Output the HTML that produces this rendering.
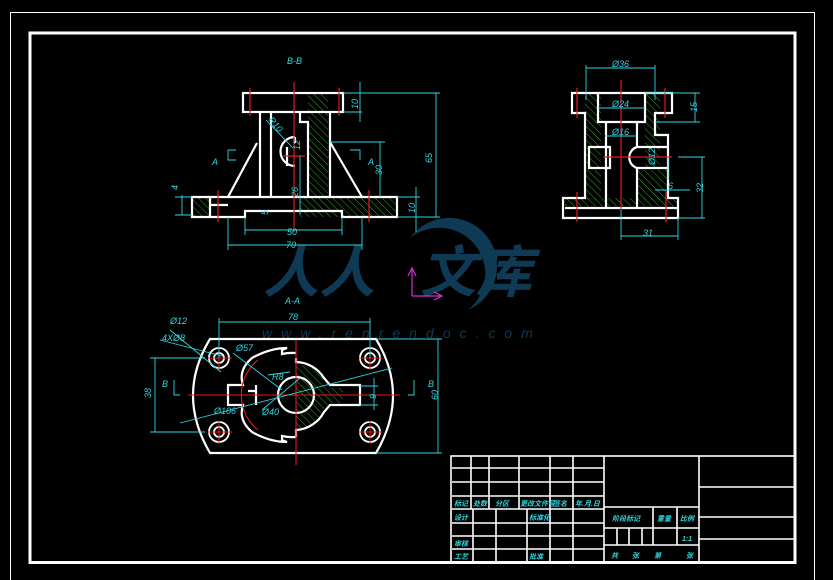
<!DOCTYPE html>
<html><head><meta charset="utf-8"><style>
html,body{margin:0;padding:0;background:#000;}
svg{display:block}
text{font-family:"Liberation Sans","Noto Sans CJK SC",sans-serif;font-style:italic}
</style></head><body>
<svg width="833" height="580" viewBox="0 0 833 580" xmlns="http://www.w3.org/2000/svg">
<defs>
<pattern id="h" width="5" height="5" patternUnits="userSpaceOnUse" patternTransform="rotate(-45)">
<line x1="0" y1="0" x2="0" y2="5" stroke="#3bd12a" stroke-width="0.8"/>
</pattern>
</defs>
<rect width="833" height="580" fill="#000"/>
<rect x="10.5" y="12.5" width="804" height="570" fill="none" stroke="#fff" stroke-width="1"/>
<rect x="30" y="33" width="765" height="529.5" fill="none" stroke="#fff" stroke-width="3"/>

<g fill="#0e3a55">
<path d="M410 238 A48 48 0 1 1 468 310 A42 42 0 1 0 410 238Z" />
<text x="263" y="292" font-size="56" font-style="normal" font-family="Noto Serif CJK SC,serif" font-weight="bold">人人</text>
<text x="420" y="292" font-size="56" font-style="normal" font-family="Noto Serif CJK SC,serif" font-weight="bold">文库</text>
<text x="262" y="338" font-size="14" font-style="normal" font-family="Liberation Serif,serif" letter-spacing="9">www.renrendoc.com</text>
</g>
<g stroke="#d030d0" stroke-width="1.2" fill="none">
<path d="M412 296 V268 M408 276 L412 268 L416 276 M412 296 H442 M434 292 L442 296 L434 300"/>
</g>

<text x="287" y="64" fill="#2fd6e0" font-size="9">B-B</text>
<g fill="url(#h)">
<rect x="308" y="93" width="20" height="104"/>
<rect x="300" y="197" width="97" height="20"/>
<rect x="193" y="198" width="17" height="18"/>
</g>
<g fill="none" stroke="#fff" stroke-width="2.2">
<rect x="243" y="93" width="100" height="19"/>
<path d="M260 112 V197 M330 112 V197 M300 112 V122 H308 V197 M308 122"/>
<path d="M257 143 L228 197 M330 142 L362 197"/>
<path d="M192 197 H397 V217 H342 V211 H245 V217 H192 Z"/>
<path d="M210 205 H228 M210 197 V217"/>
<path d="M295 137 A12 12 0 0 0 295 166 M295 137 V143 M287 147 V166"/>
<path d="M271 112 V197"/>
</g>
<g stroke="#e01a1a" stroke-width="1.2">
<line x1="294" y1="82" x2="294" y2="232"/>
<line x1="250" y1="88" x2="250" y2="116"/>
<line x1="339" y1="88" x2="339" y2="116"/>
<line x1="218" y1="190" x2="218" y2="222"/>
<line x1="369" y1="190" x2="369" y2="222"/>
<line x1="283" y1="156" x2="305" y2="156"/>
</g>
<g stroke="#2fd6e0" stroke-width="0.9" fill="none">
<path d="M343 93 H440 M343 112 H362 M360 82 V122 M436 93 V217 M397 217 H440"/>
<path d="M330 142 H385 M380 142 V197 M397 197 H420 M416 187 V232 M397 217 H420"/>
<path d="M228 217 V250 M362 217 V250 M228 245 H362 M245 217 V235 M342 217 V235 M245 230 H342"/>
<path d="M300 156 V215"/>
<path d="M182 195 V215 M175 197 H192 M175 215 H192"/>
<path d="M266 120 L293 148"/>
<path d="M228 150 V160 H236 M228 150 H236 M350 150 H360 V160"/>
</g>
<g fill="#2fd6e0" font-size="9">
<text x="212" y="165">A</text><text x="368" y="165">A</text>
<text x="287" y="235">50</text><text x="286" y="248">70</text>
<text transform="translate(358,109) rotate(-90)">10</text>
<text transform="translate(432,163) rotate(-90)">65</text>
<text transform="translate(382,175) rotate(-90)">30</text>
<text transform="translate(415,213) rotate(-90)">10</text>
<text transform="translate(298,197) rotate(-90)">26</text>
<text transform="translate(300,150) rotate(-90)">12</text>
<text transform="translate(268,120) rotate(50)">R10</text>
<text transform="translate(268,215) rotate(-90)">5</text>
<text transform="translate(178,190) rotate(-90)">4</text>
</g>

<g fill="url(#h)">
<rect x="585" y="93" width="16" height="75"/>
<rect x="645" y="93" width="15" height="75"/>
<rect x="585" y="170" width="16" height="30"/>
<rect x="637" y="170" width="30" height="30"/>
<rect x="565" y="198" width="112" height="8"/>
</g>
<g fill="none" stroke="#fff" stroke-width="2.2">
<path d="M572 93 H672 V113 H655 V135 H668 V198 H678 V218 H563 V198 H585 V113 H572 Z"/>
<path d="M598 93 V122 H645 V93 M606 122 V208 M637 122 V147 M637 168 V208"/>
<path d="M589 147 H610 V168 H589 Z M637 147 H668 M637 168 H668 M637 147 A11 11 0 0 0 637 168"/>
<path d="M565 208 H677"/>
</g>
<g stroke="#e01a1a" stroke-width="1.2">
<line x1="621" y1="80" x2="621" y2="210"/>
<line x1="577" y1="88" x2="577" y2="118"/>
<line x1="665" y1="88" x2="665" y2="118"/>
<line x1="603" y1="157" x2="672" y2="157"/>
<line x1="577" y1="192" x2="577" y2="222"/>
<line x1="666" y1="192" x2="666" y2="222"/>
</g>
<g stroke="#2fd6e0" stroke-width="0.9" fill="none">
<path d="M586 68 H655 M586 65 V100 M655 65 V100"/>
<path d="M598 108 H645 M605 136 H637 M645 93 H700 M655 122 H700 M695 93 V122"/>
<path d="M668 157 V180 M678 157 H705 M678 218 H705 M702 157 V218"/>
<path d="M655 190 H690 M621 210 V240 M678 218 V240 M621 236 H678"/>
</g>
<g fill="#2fd6e0" font-size="9">
<text x="612" y="67">Ø36</text><text x="612" y="107">Ø24</text><text x="612" y="135">Ø16</text>
<text transform="translate(655,165) rotate(-90)">Ø12</text>
<text transform="translate(697,112) rotate(-90)">15</text>
<text transform="translate(703,193) rotate(-90)">32</text>
<text x="668" y="189">6</text><text x="643" y="236">31</text>
</g>

<text x="285" y="304" fill="#2fd6e0" font-size="9">A-A</text>
<path d="M296 365 A32 32 0 0 1 324 378 L322 382 L330 388 L343 388 L343 403 L330 403 L322 410 A32 32 0 0 1 296 430 Z" fill="url(#h)"/>
<g fill="none" stroke="#fff" stroke-width="2.2">
<path d="M210 339 H376 Q410 395 376 453 H210 Q176 395 210 339 Z"/>
<path d="M296 353 A47 47 0 0 0 282 354 V350 L287 348 Q270 348 252 358 Q238 370 243 385 H228 V405 H243 Q238 420 252 432 Q270 442 287 442 L282 440 V436 A47 47 0 0 0 296 437"/>
<path d="M296 358 V362 A34 34 0 0 1 324 378 L330 385 H360 V405 H330 L324 412 A34 34 0 0 1 296 430 V437"/>
<circle cx="296" cy="395" r="18"/>
<path d="M248 391 H256 M256 385 V405"/>
</g>
<g fill="none" stroke="#fff" stroke-width="1.8">
<circle cx="219" cy="358" r="10"/><circle cx="219" cy="358" r="5"/>
<circle cx="370" cy="358" r="10"/><circle cx="370" cy="358" r="5"/>
<circle cx="219" cy="432" r="10"/><circle cx="219" cy="432" r="5"/>
<circle cx="370" cy="432" r="10"/><circle cx="370" cy="432" r="5"/>
</g>
<g fill="none" stroke="#e01a1a" stroke-width="1.1">
<line x1="296" y1="340" x2="296" y2="465"/>
<line x1="188" y1="395" x2="400" y2="395"/>
<path d="M208 358 H232 M219 347 V370 M359 358 H382 M370 347 V370 M208 432 H232 M219 421 V444 M359 432 H382 M370 421 V444"/>
<path d="M258 360 A45 45 0 0 0 258 430"/>
</g>
<g stroke="#2fd6e0" stroke-width="0.9" fill="none">
<path d="M219 322 H370 M219 318 V358 M370 318 V358"/>
<path d="M150 358 H205 M150 432 H205 M155 358 V432"/>
<path d="M376 339 H442 M376 453 H442 M438 339 V453"/>
<path d="M170 330 L221 372 M160 340 L222 356"/>
<path d="M233 353 L282 390 M180 423 L392 368 M268 375 L290 372 M262 410 L300 378"/>
<path d="M374 378 V410 M360 386 H378 M360 405 H378"/>
<path d="M174 380 V395 H180 M414 380 V395 H408"/>
</g>
<g fill="#2fd6e0" font-size="9">
<text x="170" y="324">Ø12</text><text x="162" y="341">4XØ8</text>
<text x="236" y="351">Ø57</text><text x="272" y="380">R8</text>
<text x="214" y="414">Ø106</text><text x="262" y="415">Ø40</text>
<text x="288" y="320">78</text>
<text x="162" y="387">B</text><text x="428" y="387">B</text>
<text transform="translate(151,398) rotate(-90)">38</text>
<text transform="translate(438,400) rotate(-90)">60</text>
<text transform="translate(376,399) rotate(-90)">9</text>
</g>

<g fill="none" stroke="#fff" stroke-width="1.6">
<rect x="451" y="456" width="344" height="107"/>
<line x1="604" y1="456" x2="604" y2="563"/>
<line x1="699" y1="456" x2="699" y2="563"/>
<path d="M452 468 H604 M452 482 H604 M452 496 H604 M452 509 H604 M452 523 H604 M452 536 H604 M452 549 H604"/>
<path d="M471 456 V509 M489 456 V509 M519 456 V509 M550 456 V509 M573 456 V509"/>
<path d="M473 509 V563 M496 509 V563 M527 509 V563 M550 509 V563 M573 509 V563"/>
<path d="M604 507 H699 M604 528 H699 M604 545 H699 M653 507 V545 M677 507 V545 M617 528 V545 M629 528 V545 M642 528 V545"/>
<path d="M699 487 H795 M699 517 H795 M699 539 H795"/>
</g>
<g fill="#2fd6e0" font-size="7" font-style="normal" font-family="Noto Sans CJK SC,sans-serif" font-weight="bold">
<text x="454" y="506">标记</text><text x="473" y="506">处数</text><text x="495" y="506">分区</text>
<text x="520" y="506">更改文件号</text><text x="553" y="506">签名</text><text x="575" y="506">年.月.日</text>
<text x="454" y="520">设计</text><text x="529" y="520">标准化</text>
<text x="454" y="546">审核</text><text x="454" y="559">工艺</text><text x="529" y="559">批准</text>
<text x="612" y="521">阶段标记</text><text x="657" y="521">重量</text><text x="680" y="521">比例</text>
<text x="682" y="541">1:1</text>
<text x="611" y="558">共</text><text x="632" y="558">张</text><text x="654" y="558">第</text><text x="686" y="558">张</text>
</g>
</svg>
</body></html>
